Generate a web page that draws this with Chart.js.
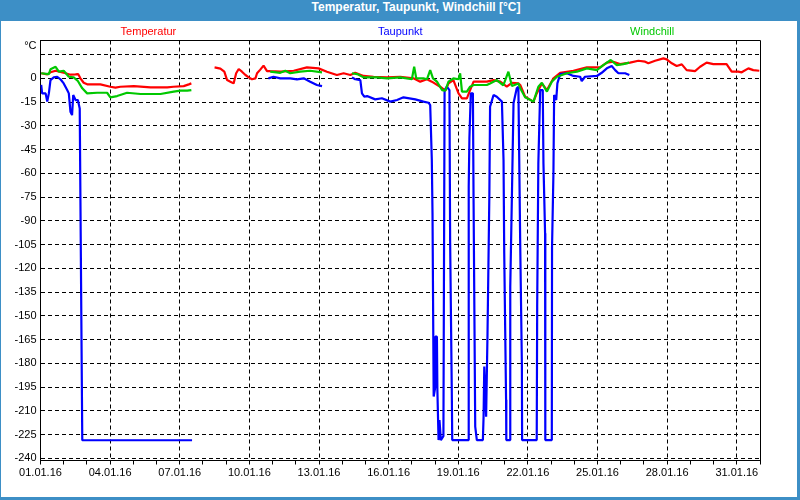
<!DOCTYPE html>
<html>
<head>
<meta charset="utf-8">
<script src="https://cdn.jsdelivr.net/npm/chart.js@4"></script>
<style>
  body { margin: 0; background: #fff; }
  #frame { position: relative; width: 800px; height: 500px; background: #3d8fc6; overflow: hidden; }
  #title { position: absolute; left: 0; top: 0; width: 800px; height: 21px; line-height: 20px; padding-left: 32px;
           box-sizing: border-box; text-align: center; color: #fff; font: bold 12px "Liberation Sans", Arial, sans-serif; }
  #plot { position: absolute; left: 1px; top: 21px; width: 796px; height: 476px; background: #fff; }
</style>
</head>
<body>
<div id="frame">
  <div id="title">Temperatur, Taupunkt, Windchill [°C]</div>
  <canvas id="plot" width="796" height="476"></canvas>
</div>
<script>
// x values are days since 01.01.16 00:00, null breaks the line
const seriesNames = ['Temperatur', 'Taupunkt', 'Windchill'];
const xLabels = ['01.01.16', '04.01.16', '07.01.16', '10.01.16', '13.01.16', '16.01.16',
                 '19.01.16', '22.01.16', '25.01.16', '28.01.16', '31.01.16'];
const yTicks = [15, 0, -15, -30, -45, -60, -75, -90, -105, -120, -135, -150, -165, -180, -195, -210, -225, -240];

const tempDays = [0.03,0.29,0.43,0.65,0.86,1.08,1.29,1.51,1.62,1.72,1.86,2.01,2.58,3.01,3.23,3.44,4.02,4.74,5.46,5.73,6.17,6.39,6.50,
  7.0,
  7.50,7.75,7.92,8.04,8.18,8.32,8.43,8.54,8.68,8.83,8.97,9.11,9.26,9.33,9.47,9.61,9.76,9.90,10.33,10.91,
  11.48,11.98,12.34,12.77,13.06,13.35,13.56,13.92,14.35,14.93,15.50,16.07,16.36,16.65,16.86,17.22,17.44,17.58,17.79,18.01,
  18.16,18.37,18.51,18.66,19.23,19.52,19.81,20.09,20.31,20.59,20.67,20.88,21.24,21.38,21.60,21.82,22.10,22.39,22.96,23.54,
  24.11,24.40,24.68,24.97,25.40,25.76,26.05,26.19,26.48,26.84,26.98,27.20,27.41,27.63,27.84,28.20,28.42,28.70,28.99,29.56,
  29.78,30.06,30.21,30.50,30.71,30.97];
const tempVals = [3.2,2.5,3.8,4.8,4.0,3.2,2.3,2.5,2.7,0,-2.8,-3.8,-3.8,-5.3,-5.9,-5.3,-4.9,-5.7,-5.7,-5.3,-4.9,-3.8,-3.2,
  null,
  6.9,6.1,4.2,-1.1,-2.1,-3.2,3.2,5.9,4.2,2.1,0.6,-0.6,0,3.2,5.5,8.0,4.6,4.5,4.2,4.8,
  6.9,6.3,4.2,2.1,3.2,2.1,3.5,1.5,1.0,0.6,1.0,0,-2.1,-0.6,-2.1,-5.3,-7.8,-3.2,-1.1,-9.5,
  -12.6,-12.6,-7.4,-2.1,-2.1,-1.1,-2.1,-5.3,-2.8,-3.2,-4.2,-11.6,-14.7,-9.5,-3.2,-7.4,0,3.5,4.8,6.9,
  6.9,9.9,10.5,9.0,9.9,11.1,10.5,9.5,11.1,12.6,12.0,9.5,7.8,8.8,5.2,4.6,7.3,9.9,9.0,9.0,
  4.2,4.2,3.8,6.3,5.2,4.8];

const dewDays = [0.03,0.07,0.22,0.29,0.36,0.43,0.57,0.72,0.86,1.00,1.15,1.22,1.29,1.36,1.41,1.51,1.61,1.69,1.80,6.53,
  8.0,
  9.82,10.04,10.33,10.76,11.05,11.34,11.62,11.91,12.13,
  12.8,
  13.42,13.56,13.78,13.85,13.95,14.07,14.42,14.71,15.07,15.36,15.64,16.15,16.50,16.72,16.79,16.86,16.89,16.94,17.01,17.01,
  17.08,17.10,17.15,17.19,17.25,17.36,17.41,17.51,17.62,17.65,17.72,17.74,18.44,18.45,18.48,18.54,18.63,18.66,18.73,18.80,
  19.06,19.09,19.12,19.20,19.26,19.30,19.34,19.37,19.52,19.66,19.88,19.95,19.98,20.06,20.07,20.23,20.24,20.31,20.38,20.52,
  20.59,20.67,20.74,20.75,21.38,21.40,21.45,21.53,21.64,21.67,21.74,21.75,22.03,22.04,22.10,22.13,22.22,22.27,22.39,22.68,
  22.96,23.25,23.32,23.46,23.97,24.18,24.40,24.61,24.76,24.90,25.19,25.37];
const dewVals = [-4.2,-9.5,-9.5,-14.7,-9.5,-1.1,0.6,1.0,-0.6,-3.2,-7.4,-9.5,-21.1,-23.2,-10.5,-13.7,-13.7,-19.0,-228.6,-228.6,
  null,
  0,1.0,0,0,-0.6,0,-2.1,-4.2,-4.9,
  null,
  0.6,-0.6,-1.1,-9.5,-11.6,-11.2,-13.3,-12.6,-14.7,-13.7,-12.0,-13.3,-14.7,-15.4,-16.9,-51.6,-85.3,-201,-194.8,-163.2,
  -163.2,-197,-228.5,-215.9,-228.5,-226,-7.4,-5.3,-7.4,-104,-197,-228.5,-228.5,-68.5,-37.9,-9.5,-9.5,-79,-220,-228.5,
  -228.5,-213.8,-182,-213.8,-161,-116.9,-72.6,-17.9,-10.5,-11.6,-14.7,-51.6,-110.5,-203,-228.5,-228.5,-131.6,-74.8,-15.8,-6.3,
  -5.3,-106.4,-180,-228.5,-228.5,-144.3,-53.7,-7.4,-7.4,-53.7,-97.9,-228.5,-228.5,-106.4,-60,-10.5,-13.7,-3.2,2.7,3.2,
  1.5,1.0,-1.7,1.0,1.5,3.5,6.3,7.8,5.2,3.2,3.2,2.1];

const chillDays = [0.03,0.36,0.43,0.65,0.79,1.00,1.22,1.43,1.61,1.80,2.01,2.44,2.87,3.01,3.30,3.73,4.31,5.17,5.74,6.03,6.32,6.50,
  8.0,
  9.90,10.33,10.55,10.76,11.19,11.62,12.13,
  12.8,
  13.42,13.64,13.92,14.50,14.93,15.50,16.00,16.10,16.19,16.50,16.65,16.79,16.91,17.08,17.30,17.44,17.58,17.79,18.01,18.08,
  18.16,18.37,18.51,18.66,19.23,19.37,19.66,19.94,20.16,20.31,20.59,20.67,20.88,21.24,21.45,21.60,21.82,22.03,22.25,22.68,
  23.11,23.54,23.97,24.25,24.57,24.83,25.11,25.37];
const chillVals = [3.2,2.7,5.7,7.3,4.2,4.8,1.0,0.6,-1.7,-6.3,-9.5,-9.1,-9.1,-12.0,-11.2,-9.1,-9.9,-9.9,-8.4,-7.8,-7.8,-7.4,
  null,
  4.2,3.5,4.8,3.2,4.2,4.8,3.8,
  null,
  3.2,2.7,0.6,0.6,0,0.6,-0.6,7.3,0,0,-0.6,5.2,0,-2.1,-7.4,-7.8,-2.1,0,-0.6,3.2,
  -8.4,-8.4,-5.3,-4.2,-4.2,-3.2,-1.1,-4.5,4.2,-4.8,-3.2,-6.3,-12.0,-14.7,-5.3,-2.8,-8.4,-2.1,1.0,3.2,
  4.2,6.3,5.2,8.4,11.6,8.4,9.0,9.9];

const RED = '#ff0000';
const BLUE = '#0000ff';
const GREEN = '#00c800';

function toPoints(days, vals) {
  return days.map((d, i) => ({ x: d, y: vals[i] }));
}

function makeLine(label, days, vals, color, order) {
  return {
    label: label,
    data: toPoints(days, vals),
    borderColor: color,
    backgroundColor: color,
    borderWidth: 2.2,
    borderJoinStyle: 'bevel',
    pointRadius: 0,
    tension: 0,
    spanGaps: false,
    order: order
  };
}

// legend row, frame and the unit label
const extras = {
  id: 'extras',
  afterDraw(chart) {
    const { ctx, chartArea: a } = chart;
    ctx.save();
    ctx.strokeStyle = '#000';
    ctx.lineWidth = 1;
    ctx.beginPath();
    ctx.moveTo(a.left, Math.floor(a.top) + 0.5);
    ctx.lineTo(Math.floor(a.right) + 0.5, Math.floor(a.top) + 0.5);
    ctx.lineTo(Math.floor(a.right) + 0.5, a.bottom);
    ctx.stroke();

    ctx.font = '11px "Liberation Sans", Arial, sans-serif';
    ctx.textBaseline = 'middle';
    ctx.textAlign = 'center';
    const mid = (a.left + a.right) / 2;
    const step = (a.right - a.left) * 0.35;
    chart.data.datasets.forEach((ds, i) => {
      ctx.fillStyle = ds.borderColor;
      ctx.fillText(ds.label, mid + (i - 1) * step, 11);
    });

    ctx.fillStyle = '#000';
    ctx.textAlign = 'right';
    ctx.fillText('°C', a.left - 4, a.top + 5);
    ctx.restore();
  }
};

Chart.defaults.font.family = '"Liberation Sans", Arial, sans-serif';
Chart.defaults.font.size = 11;
Chart.defaults.color = '#000';

new Chart(document.getElementById('plot'), {
  type: 'line',
  data: {
    datasets: [
      makeLine(seriesNames[0], tempDays, tempVals, RED, 2),
      makeLine(seriesNames[1], dewDays, dewVals, BLUE, 1),
      makeLine(seriesNames[2], chillDays, chillVals, GREEN, 0)
    ]
  },
  options: {
    responsive: false,
    animation: false,
    layout: { padding: { top: 19.5, right: 37, bottom: 0, left: 0 } },
    plugins: {
      legend: { display: false },
      tooltip: { enabled: false }
    },
    scales: {
      x: {
        type: 'linear',
        min: 0,
        max: 31,
        afterBuildTicks: scale => {
          const t = [];
          for (let d = 0; d <= 31; d++) t.push({ value: d });
          scale.ticks = t;
        },
        afterFit: scale => { scale.height = 36.5; },
        ticks: {
          autoSkip: false,
          maxRotation: 0,
          padding: 2,
          callback: v => (v % 3 === 0 ? xLabels[v / 3] : '')
        },
        grid: {
          color: c => (c.tick && c.tick.value % 3 === 0 && c.tick.value > 0 ? '#000' : 'rgba(0,0,0,0)'),
          tickColor: '#000',
          tickLength: 4,
          lineWidth: 1
        },
        border: { color: '#000', width: 1, dash: [4, 3] }
      },
      y: {
        min: -241.4,
        max: 23.9,
        afterBuildTicks: scale => { scale.ticks = yTicks.map(v => ({ value: v })); },
        afterFit: scale => { scale.width = 39.5; },
        ticks: {
          padding: 4,
          callback: v => (v === 15 ? '' : String(v))
        },
        grid: {
          color: '#000',
          drawTicks: false,
          lineWidth: 1
        },
        border: { color: '#000', width: 1, dash: [4, 3] }
      }
    }
  },
  plugins: [extras]
});
</script>
</body>
</html>
